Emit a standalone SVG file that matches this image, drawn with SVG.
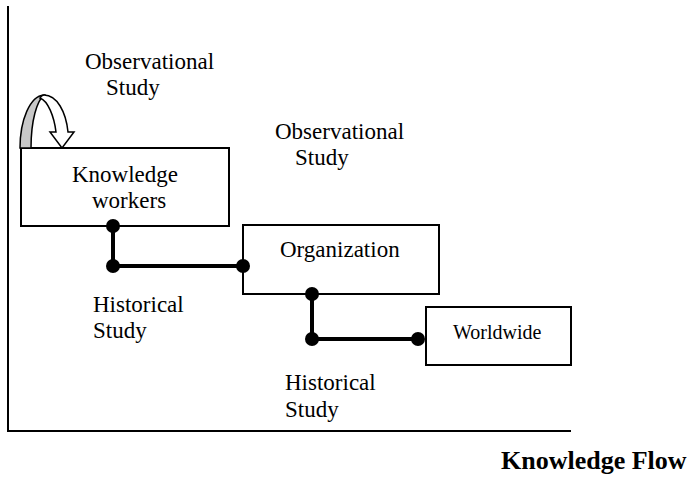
<svg xmlns="http://www.w3.org/2000/svg" width="688" height="489" viewBox="0 0 688 489" font-family="'Liberation Serif', 'DejaVu Serif', serif">
  <style>
    text { font-family: "Liberation Serif", "DejaVu Serif", serif; font-size: 23px; fill: #000; }
    .small { font-size: 20px; }
    .title { font-weight: bold; font-size: 26px; }
    .box { fill: #fff; stroke: #000; stroke-width: 2; }
    .axis { fill: none; stroke: #000; stroke-width: 2; }
    .link { fill: none; stroke: #000; stroke-width: 4; }
    .dot { fill: #000; }
  </style>

  <!-- axes -->
  <path class="axis" d="M8,6 V431 H571"/>

  <!-- free labels -->
  <text x="85" y="69">Observational</text>
  <text x="106" y="95">Study</text>
  <text x="275" y="139">Observational</text>
  <text x="295" y="165">Study</text>
  <text x="93" y="312">Historical</text>
  <text x="93" y="338">Study</text>
  <text x="285" y="390">Historical</text>
  <text x="285" y="417">Study</text>

  <!-- nodes -->
  <g id="knowledge-workers">
    <rect class="box" x="21" y="148" width="208" height="78"/>
    <text x="72" y="182">Knowledge</text>
    <text x="92" y="208">workers</text>
  </g>
  <g id="organization">
    <rect class="box" x="243" y="225" width="196" height="69"/>
    <text x="280" y="257">Organization</text>
  </g>
  <g id="worldwide">
    <rect class="box" x="426" y="307" width="145" height="58"/>
    <text class="small" x="453" y="339">Worldwide</text>
  </g>

  <!-- self-loop curved arrow on Knowledge workers -->
  <g id="self-loop">
    <path d="M20,148 C20,120 30,96 44,95 C37,101 31,120 31,148 Z" fill="#c8c8c8" stroke="#000" stroke-width="1.5"/>
    <path d="M44,95 C57,95 66,112 68,132 L74,132 L62,148 L50,132 L56,132 C54,116 48,101 40,98 C41,96 42,95 44,95 Z" fill="#fff" stroke="#000" stroke-width="1.5"/>
  </g>

  <!-- connectors -->
  <g id="connectors">
    <path class="link" d="M113,226 V266 H243"/>
    <circle class="dot" cx="113" cy="226" r="7"/>
    <circle class="dot" cx="113" cy="266" r="7"/>
    <circle class="dot" cx="243" cy="266" r="7"/>
    <path class="link" d="M312,294 V339 H418"/>
    <circle class="dot" cx="312" cy="294" r="7"/>
    <circle class="dot" cx="312" cy="339" r="7"/>
    <circle class="dot" cx="418" cy="339" r="7"/>
  </g>

  <text class="title" x="501" y="469">Knowledge Flow</text>
</svg>
